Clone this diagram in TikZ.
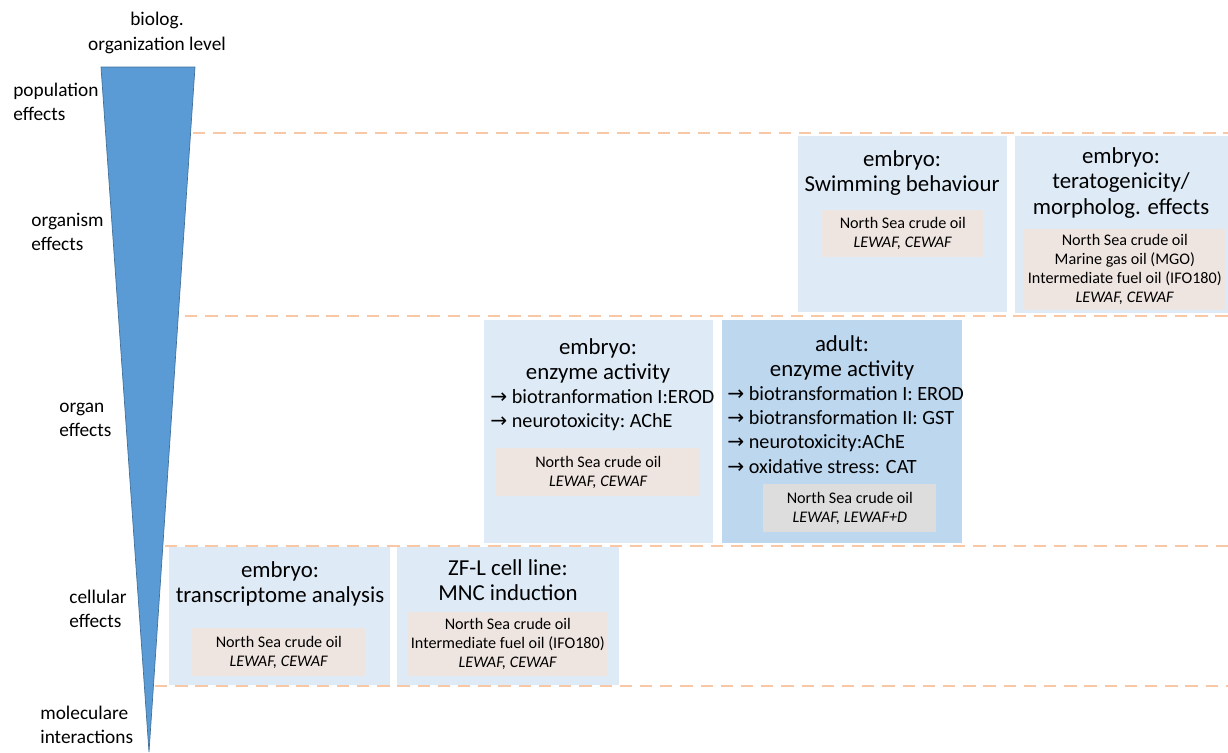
\documentclass[tikz,border=0pt]{standalone}
\usepackage{fontspec}
\setmainfont{Carlito}
\newfontfamily\arrowfont{DejaVu Sans}
\usetikzlibrary{positioning}

\definecolor{paneblue}{HTML}{DEEBF7}
\definecolor{adultblue}{HTML}{BDD7EE}
\definecolor{oilbeige}{HTML}{EFE5E0}
\definecolor{oilgray}{HTML}{DEDDDD}
\definecolor{wedgeblue}{HTML}{5B9BD5}
\definecolor{wedgeedge}{HTML}{41719C}
\definecolor{peach}{HTML}{F8C8A6}

\newcommand{\ra}{{\arrowfont\fontsize{11.5}{12}\selectfont →}\ }

\begin{document}
\begin{tikzpicture}[
    x=0.02cm, y=-0.02cm,
    panel/.style={fill=paneblue, inner sep=0pt, anchor=north west},
    oilbox/.style={fill=oilbeige, align=center, inner sep=0pt, anchor=north west,
        font=\fontsize{9.2}{10.8}\selectfont},
    title/.style={align=center, inner sep=0pt, font=\fontsize{13}{14.5}\selectfont},
    items/.style={align=left, inner sep=0pt, anchor=west, font=\fontsize{11.5}{13.7}\selectfont},
    level/.style={align=left, inner sep=0pt, anchor=west, font=\fontsize{11}{13.8}\selectfont},
    sep/.style={draw=peach, line width=1.3pt, dash pattern=on 7pt off 4.5pt}
]
\useasboundingbox (0,0) rectangle (1228,752);

% level axis
\fill[wedgeblue, draw=wedgeedge, line width=0.4pt] (101,67) -- (195,67) -- (149,752) -- cycle;
\node[level, anchor=center, align=center] (axis) at (157,33) {biolog.\\organization level};
\node[level] (population) at (13,102) {population\\effects};
\node[level] (organism) at (31,232) {organism\\effects};
\node[level] (organ) at (59,420) {organ\\effects};
\node[level] (cellular) at (69,609) {cellular\\effects};
\node[level] (molecular) at (40,725) {moleculare\\interactions};

% level separators
\draw[sep] (193,133) -- (1228,133);
\draw[sep] (185,316) -- (1228,316);
\draw[sep] (165,546) -- (1228,546);
\draw[sep] (155,686) -- (1228,686);

% organism level
\node[panel, minimum width=4.18cm, minimum height=3.52cm] (swim) at (798,136) {};
\node[title] (swimtitle) at (902,173) {embryo:\\Swimming behaviour};
\node[oilbox, minimum width=3.22cm, minimum height=0.94cm] (swimoil) at (822,210)
    {North Sea crude oil\\\textit{LEWAF, CEWAF}};

\node[panel, minimum width=4.26cm, minimum height=3.54cm] (terato) at (1015,136) {};
\node[title] (teratotitle) at (1121,183) {embryo:\\teratogenicity/\\morpholog. effects};
\node[oilbox, minimum width=4.06cm, minimum height=1.62cm] (teratooil) at (1023,229)
    {North Sea crude oil\\Marine gas oil (MGO)\\Intermediate fuel oil (IFO180)\\\textit{LEWAF, CEWAF}};

% organ level
\node[panel, minimum width=4.58cm, minimum height=4.46cm] (enzyme) at (484,320) {};
\node[title] (enzymetitle) at (598,361) {embryo:\\enzyme activity};
\node[items] (enzymelist) at (490,410) {\ra biotranformation I:EROD\\\ra neurotoxicity:\ AChE};
\node[oilbox, minimum width=4.08cm, minimum height=0.96cm] (enzymeoil) at (496,448)
    {North Sea crude oil\\\textit{LEWAF, CEWAF}};

\node[panel, fill=adultblue, minimum width=4.8cm, minimum height=4.46cm] (adult) at (722,320) {};
\node[title] (adulttitle) at (842,358) {adult:\\enzyme activity};
\node[items] (adultlist) at (727,430) {\ra biotransformation I: EROD\\\ra biotransformation II: GST\\
    \ra neurotoxicity:AChE\\\ra oxidative stress: CAT};
\node[oilbox, fill=oilgray, minimum width=3.46cm, minimum height=0.96cm] (adultoil) at (763,484)
    {North Sea crude oil\\\textit{LEWAF, LEWAF+D}};

% cellular level
\node[panel, minimum width=4.42cm, minimum height=2.76cm] (transcr) at (169,547) {};
\node[title] (transcrtitle) at (280,584) {embryo:\\transcriptome analysis};
\node[oilbox, minimum width=3.46cm, minimum height=0.96cm] (transcroil) at (192,628)
    {North Sea crude oil\\\textit{LEWAF, CEWAF}};

\node[panel, minimum width=4.44cm, minimum height=2.76cm] (zfl) at (397,547) {};
\node[title] (zfltitle) at (508,580) {ZF-L cell line:\\MNC induction};
\node[oilbox, minimum width=3.98cm, minimum height=1.28cm] (zfloil) at (408,612)
    {North Sea crude oil\\Intermediate fuel oil (IFO180)\\\textit{LEWAF, CEWAF}};
\end{tikzpicture}
\end{document}
